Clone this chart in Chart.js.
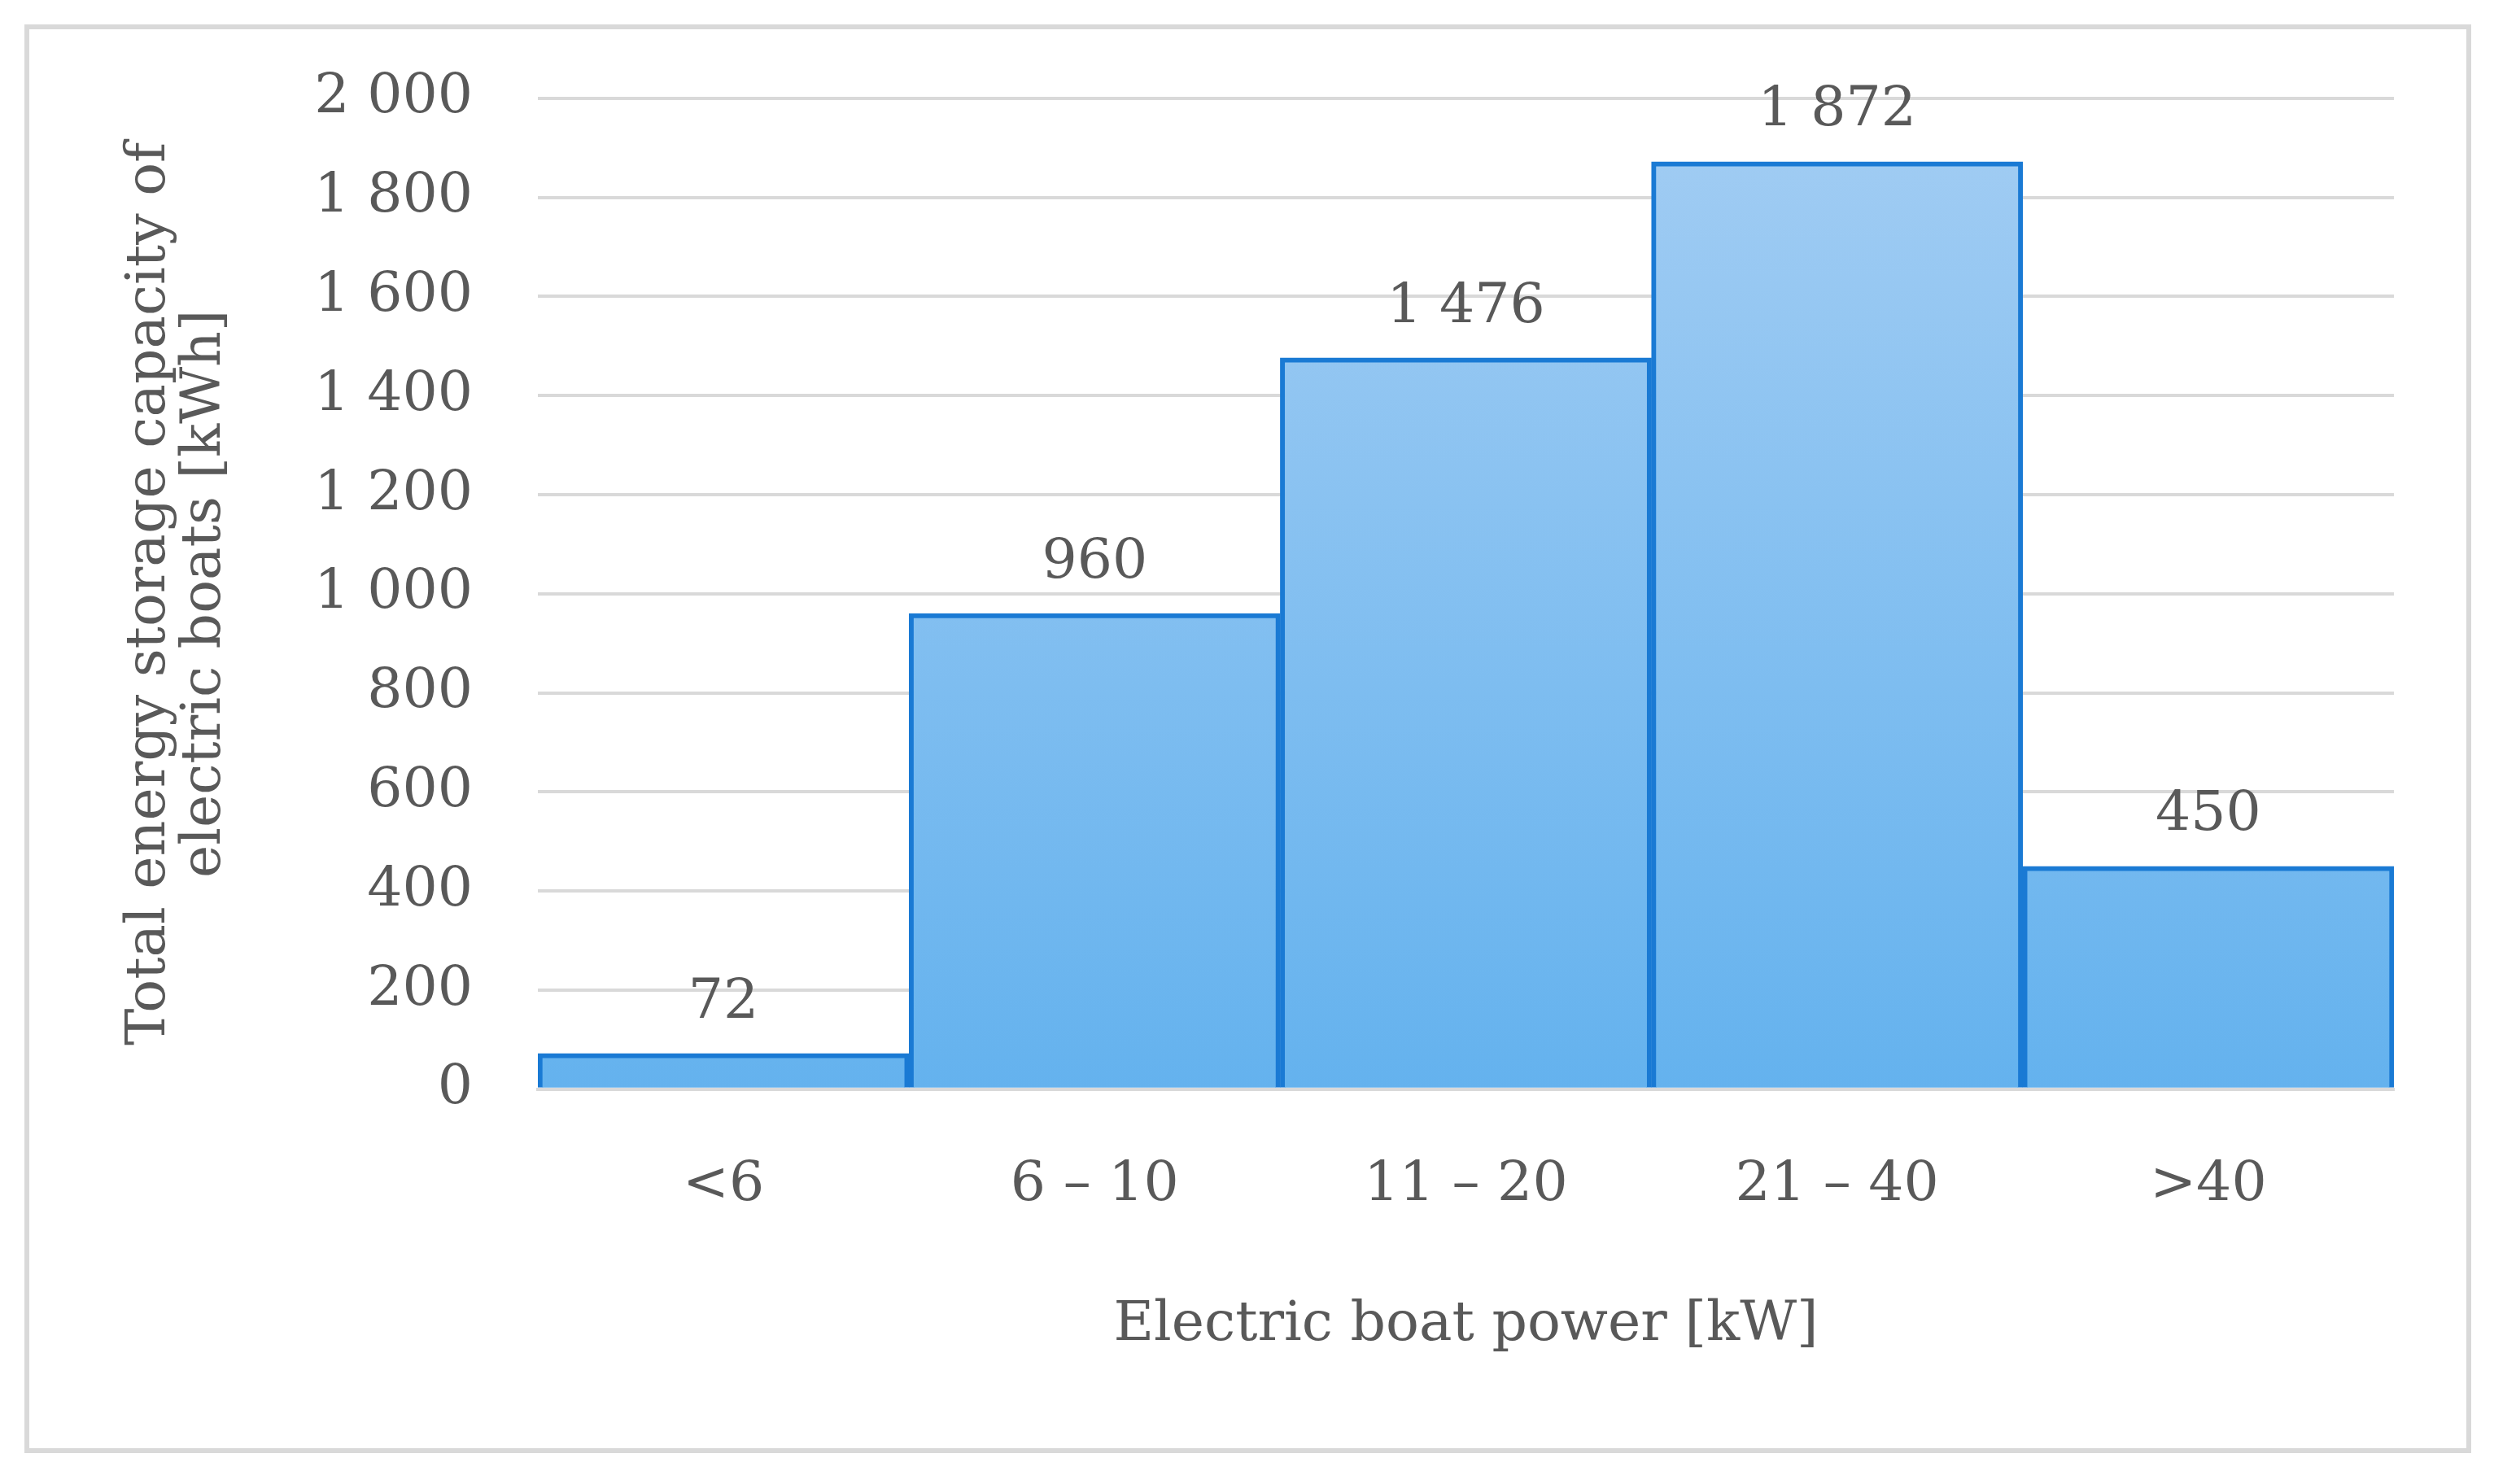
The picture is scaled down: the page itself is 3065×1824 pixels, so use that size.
<!DOCTYPE html>
<html><head><meta charset="utf-8">
<script src="https://cdn.jsdelivr.net/npm/chart.js@4"></script>
<style>body{margin:0;background:#fff}</style>
</head><body><canvas id="c" width="3065" height="1824"></canvas>
<script>
var categories = ['<6', '6 – 10', '11 – 20', '21 – 40', '>40'];
var capacity = [72, 960, 1476, 1872, 450];
var yTicks = [0, 200, 400, 600, 800, 1000, 1200, 1400, 1600, 1800, 2000];

var FONT = '"DejaVu Serif", "Liberation Serif", serif';
var GREY = '#595959';

function fmt(v) { return String(v).replace(/\B(?=(\d{3})+(?!\d))/g, ' '); }

// frame around the whole figure + value labels on top of the bars
var extras = {
  id: 'extras',
  beforeDraw: function (chart) {
    var ctx = chart.ctx;
    ctx.save();
    ctx.strokeStyle = '#d9d9d9';
    ctx.lineWidth = 6;
    ctx.strokeRect(33, 33, 3001, 1750);
    ctx.restore();
  },
  afterDatasetsDraw: function (chart) {
    var ctx = chart.ctx;
    ctx.save();
    ctx.fillStyle = GREY;
    ctx.font = '68px ' + FONT;
    ctx.textAlign = 'center';
    ctx.textBaseline = 'bottom';
    chart.getDatasetMeta(0).data.forEach(function (bar, i) {
      ctx.fillText(fmt(capacity[i]), bar.x, bar.y - 28);
    });
    ctx.restore();
  }
};

var ctx = document.getElementById('c').getContext('2d');

new Chart(ctx, {
  type: 'bar',
  data: {
    labels: categories,
    datasets: [{
      data: capacity,
      backgroundColor: function (c) {
        var a = c.chart.chartArea;
        if (!a) return '#8cc0f0';
        var g = c.chart.ctx.createLinearGradient(0, a.top, 0, a.bottom);
        g.addColorStop(0, '#a3cdf3');
        g.addColorStop(1, '#64b2ee');
        return g;
      },
      borderColor: '#1a7ad4',
      borderWidth: 6,
      borderSkipped: 'bottom',
      barPercentage: 1,
      categoryPercentage: 1
    }]
  },
  options: {
    responsive: false,
    animation: false,
    devicePixelRatio: 1,
    layout: { padding: { left: 150, right: 123, top: 100, bottom: 150 } },
    plugins: { legend: { display: false }, tooltip: { enabled: false } },
    scales: {
      x: {
        grid: { display: false },
        border: { color: '#d9d9d9', width: 4 },
        ticks: { color: GREY, font: { family: FONT, size: 68 }, padding: 70 },
        title: { display: true, text: 'Electric boat power [kW]', color: GREY,
                 font: { family: FONT, size: 68 }, padding: { top: 20 } }
      },
      y: {
        min: 0, max: 2000,
        afterBuildTicks: function (s) { s.ticks = yTicks.map(function (v) { return { value: v }; }); },
        afterFit: function (s) { s.width = 511; },
        grid: { color: '#d9d9d9', lineWidth: 4, drawTicks: false },
        border: { display: false },
        ticks: { color: GREY, font: { family: FONT, size: 68 }, padding: 80,
                 callback: function (v) { return fmt(v); } },
        title: { display: true, text: ['Total energy storage capacity of', 'electric boats [kWh]'],
                 color: GREY, font: { family: FONT, size: 68, lineHeight: 1.0 }, padding: 0 }
      }
    }
  },
  plugins: [extras]
});
</script>
</body></html>
